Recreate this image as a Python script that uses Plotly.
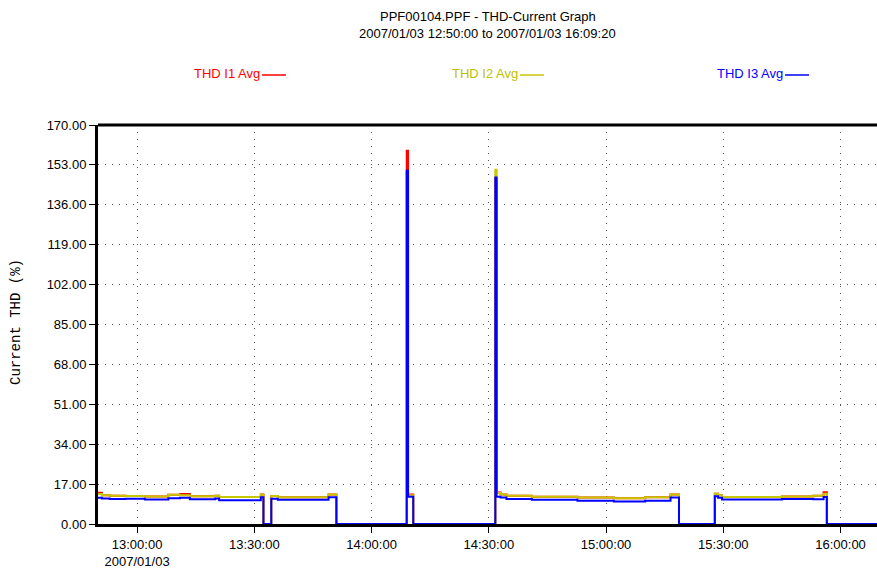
import plotly.graph_objects as go

# ---- data (change points of the stepped averages) ----
times = ["12:50:00", "12:51:00", "12:53:00", "12:57:00", "13:02:00", "13:08:00", "13:11:00",
         "13:13:30", "13:20:00", "13:21:00", "13:31:40", "13:32:20", "13:34:20", "13:36:00",
         "13:49:00", "13:51:00", "14:09:00", "14:09:20", "14:10:40", "14:31:40", "14:32:00",
         "14:33:00", "14:34:30", "14:41:00", "14:52:40", "15:02:00", "15:10:00", "15:16:30",
         "15:18:40", "15:27:50", "15:28:40", "15:29:40", "15:45:00", "15:53:00", "15:55:40",
         "15:56:30", "16:09:20"]
thd_i1 = [13.3, 12.2, 12.0, 11.9, 11.7, 12.5, 12.8, 11.8, 12.0, 11.5, 12.6, 0.0, 11.9, 11.4,
          12.6, 0.0, 159.0, 12.6, 0.0, 147.0, 13.4, 12.6, 12.0, 11.6, 11.3, 11.0, 11.4, 12.6,
          0.0, 12.9, 12.2, 11.5, 11.7, 12.0, 13.5, 0.0, 0.0]
thd_i2 = [12.8, 12.2, 12.0, 11.9, 11.7, 12.5, 12.3, 11.8, 12.0, 11.5, 12.6, 0.0, 11.9, 11.4,
          12.6, 0.0, 149.0, 12.2, 0.0, 150.9, 13.2, 12.6, 12.0, 11.6, 11.3, 11.0, 11.4, 12.6,
          0.0, 12.9, 12.2, 11.5, 11.7, 12.0, 12.9, 0.0, 0.0]
thd_i3 = [11.2, 10.9, 10.6, 10.8, 10.4, 11.0, 11.2, 10.5, 10.9, 10.1, 11.4, 0.0, 10.8, 10.3,
          11.4, 0.0, 150.5, 11.6, 0.0, 147.6, 11.6, 11.3, 10.6, 10.3, 9.9, 9.6, 9.9, 11.3,
          0.0, 11.8, 11.2, 10.4, 10.6, 10.5, 11.5, 0.0, 0.0]
date = "2007-01-03"
series_names = ["THD I1 Avg", "THD I2 Avg", "THD I3 Avg"]
series_colors = ["#FF0000", "#C8C800", "#0000FF"]
legend_text_colors = ["#FF0000", "#BEBE00", "#0000FF"]
y_ticks = [0, 17, 34, 51, 68, 85, 102, 119, 136, 153, 170]
x_ticks = ["13:00:00", "13:30:00", "14:00:00", "14:30:00", "15:00:00", "15:30:00", "16:00:00"]
title_lines = ["PPF00104.PPF - THD-Current Graph", "2007/01/03 12:50:00 to 2007/01/03 16:09:20"]

x = [f"{date} {t}" for t in times]
fig = go.Figure()
for name, vals, col in zip(series_names, [thd_i1, thd_i2, thd_i3], series_colors):
    fig.add_trace(go.Scatter(x=x, y=vals, mode="lines", line=dict(color=col, width=2, shape="hv"),
                             name=name, showlegend=False, cliponaxis=False))

FONT = "Liberation Sans, Arial, sans-serif"
tickvals = [f"{date} {t}" for t in x_ticks]
ticktext = [x_ticks[0] + "<br>2007/01/03"] + x_ticks[1:]

L, T, B, W, H = 98, 125, 50, 877, 574
PW, PH = W - L, H - T - B

fig.update_layout(
    width=W, height=H,
    margin=dict(l=L, r=0, t=T, b=B),
    paper_bgcolor="white", plot_bgcolor="white",
    font=dict(family=FONT, size=13, color="black"),
    xaxis=dict(range=[f"{date} 12:50:00", f"{date} 16:09:20"], tickvals=tickvals, ticktext=ticktext,
               showline=True, linecolor="black", linewidth=3, ticks="outside", ticklen=6,
               tickcolor="black", showgrid=True, gridcolor="#555555", gridwidth=1,
               griddash="1px,6px", zeroline=False, tickfont=dict(size=13), layer="below traces"),
    yaxis=dict(range=[0, 170], tickvals=y_ticks, ticktext=[f"{v:.2f}" for v in y_ticks],
               showline=True, linecolor="black", linewidth=3, ticks="outside", ticklen=6,
               tickcolor="black", showgrid=True, gridcolor="#555555", gridwidth=1,
               griddash="1px,6px", zeroline=False, tickfont=dict(size=13), layer="below traces"),
)
# top border
fig.add_shape(type="line", xref="paper", yref="paper", x0=0, x1=1, y0=1, y1=1,
              line=dict(color="black", width=3))

def py(pix):
    return (H - B - pix) / PH

def px(pix):
    return (pix - L) / PW

# title
fig.add_annotation(text=title_lines[0], xref="paper", yref="paper", x=0.5, y=py(16),
                   showarrow=False, font=dict(size=13, family=FONT), xanchor="center", yanchor="middle")
fig.add_annotation(text=title_lines[1], xref="paper", yref="paper", x=0.5, y=py(34),
                   showarrow=False, font=dict(size=13, family=FONT), xanchor="center", yanchor="middle")

# legend (text followed by a short line)
leg_x = [262, 520, 785]
for name, tc, lc, xr in zip(series_names, legend_text_colors, series_colors, leg_x):
    fig.add_annotation(text=name, xref="paper", yref="paper", x=px(xr), y=py(74),
                       showarrow=False, font=dict(size=13, family=FONT, color=tc),
                       xanchor="right", yanchor="middle")
    fig.add_shape(type="line", xref="paper", yref="paper", x0=px(xr), x1=px(xr + 24),
                  y0=py(75), y1=py(75), line=dict(color=lc, width=1.5))

# y-axis title
fig.add_annotation(text="Current THD (%)", xref="paper", yref="paper", x=px(16), y=py(322),
                   showarrow=False, textangle=-90, xanchor="center", yanchor="middle",
                   font=dict(size=14, family="Liberation Mono, Courier New, monospace"))

fig.write_html("out.html", config={"displayModeBar": False},
               post_script="document.body.style.margin='0px';")
